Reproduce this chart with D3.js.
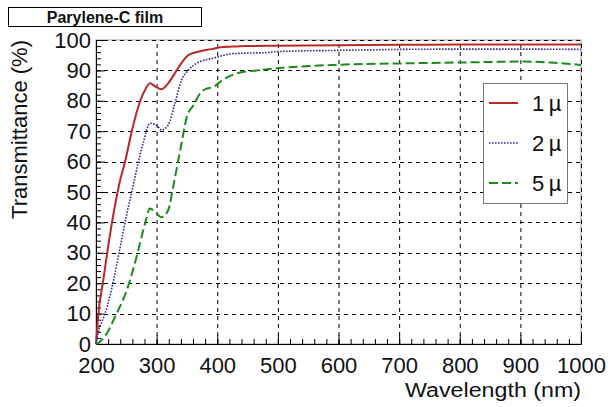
<!DOCTYPE html>
<html>
<head>
<meta charset="utf-8">
<script src="https://cdn.jsdelivr.net/npm/d3@7/dist/d3.min.js"></script>
<style>
  html, body { margin: 0; padding: 0; background: #fff; }
  svg { display: block; font-family: "Liberation Sans", Arial, Helvetica, sans-serif; }
</style>
</head>
<body>
<svg id="chart" width="608" height="407"></svg>
<script>
// Transmittance spectra of Parylene-C films of three thicknesses
const wavelength1 = [200, 204, 212, 220, 229, 240, 248, 259, 273, 282, 289, 297, 308, 320, 333, 343, 352, 362, 372, 390, 405, 430, 450, 500, 600, 700, 800, 900, 1000];
const film1 = [0, 10, 21, 32, 43, 54, 60, 70, 80, 84, 85.8, 84.8, 83.8, 86, 90, 93, 95, 95.8, 96.3, 97, 97.6, 97.9, 98, 98.1, 98.3, 98.4, 98.5, 98.5, 98.5];

const wavelength2 = [200, 205, 210, 215, 222, 229, 240, 251, 260, 270, 279, 289, 300, 308, 319, 330, 341, 352, 362, 372, 393, 421, 450, 476, 500, 600, 700, 800, 900, 1000];
const film2 = [0, 5, 7.5, 10, 15, 21, 32, 43, 51, 60, 67, 72.6, 72, 70.4, 72, 79, 86.8, 90, 91.8, 92.9, 94, 95.4, 95.7, 95.8, 96.2, 96.6, 96.9, 97, 97, 96.9];

const wavelength5 = [200, 205, 210, 218, 229, 234, 251, 267, 281, 289, 297, 308, 319, 328, 339, 350, 361, 372, 380, 394, 410, 432, 465, 498, 592, 702, 801, 900, 949, 1000];
const film5 = [0, 0.5, 1.5, 3.5, 7.9, 10, 17.8, 28.7, 39.7, 44.6, 43.5, 41.7, 44, 52.5, 63.8, 74.8, 78.6, 82.5, 83.8, 84.6, 87, 89, 90, 90.7, 91.8, 92.3, 92.6, 92.9, 92.6, 91.8];

const series = [
  { label: "1\u2009\u00b5", x: wavelength1, y: film1, color: "#b82a2a", width: 2, dash: null },
  { label: "2\u2009\u00b5", x: wavelength2, y: film2, color: "#2f2f9e", width: 1.6, dash: "1.6,1.4" },
  { label: "5\u2009\u00b5", x: wavelength5, y: film5, color: "#1d8a1d", width: 2, dash: "9,4" }
];

const xTicks = [200, 300, 400, 500, 600, 700, 800, 900, 1000];
const yTicks = [0, 10, 20, 30, 40, 50, 60, 70, 80, 90, 100];

const svg = d3.select("#chart");
const L = 96, R = 581, T = 40, B = 344;

const x = d3.scaleLinear().domain([200, 1000]).range([L, R]);
const y = d3.scaleLinear().domain([0, 100]).range([B, T]);

// frame (top/right in grey)
svg.append("rect").attr("x", L).attr("y", T).attr("width", R - L).attr("height", B - T)
  .attr("fill", "none").attr("stroke", "#999").attr("stroke-width", 1);

// dashed grid
const grid = svg.append("g").attr("stroke", "#000").attr("stroke-width", 1).attr("stroke-dasharray", "4,4");
grid.selectAll("line.v").data(xTicks.slice(1)).join("line")
  .attr("x1", d => x(d) + 0.5).attr("x2", d => x(d) + 0.5).attr("y1", B).attr("y2", T);
grid.selectAll("line.h").data(yTicks.slice(1)).join("line")
  .attr("y1", d => Math.round(y(d)) + 0.5).attr("y2", d => Math.round(y(d)) + 0.5).attr("x1", L).attr("x2", R);

// axes with inward ticks
const xMinor = d3.range(200, 1001, 20);
const yMinor = d3.range(0, 101, 2);

const xAxisG = svg.append("g").attr("transform", `translate(0,${B})`);
xAxisG.call(d3.axisBottom(x).tickValues(xMinor).tickSize(-5).tickFormat(""));
xAxisG.call(g => g.selectAll(".tick line").attr("stroke", "#000"));
const xMajorG = svg.append("g").attr("transform", `translate(0,${B})`);
xMajorG.call(d3.axisBottom(x).tickValues(xTicks).tickSize(-9).tickPadding(13).tickFormat(d3.format("d")));
xMajorG.select(".domain").attr("stroke", "#000");
xMajorG.selectAll(".tick text").attr("font-size", 22).attr("fill", "#111")
  .attr("font-family", "'Liberation Sans', Arial, sans-serif").attr("dy", "0.71em");

const yAxisG = svg.append("g").attr("transform", `translate(${L},0)`);
yAxisG.call(d3.axisLeft(y).tickValues(yMinor).tickSize(-5).tickFormat(""));
const yMajorG = svg.append("g").attr("transform", `translate(${L},0)`);
yMajorG.call(d3.axisLeft(y).tickValues(yTicks).tickSize(-9).tickPadding(5).tickFormat(d3.format("d")));
yMajorG.select(".domain").attr("stroke", "#000");
yMajorG.selectAll(".tick text").attr("font-size", 22).attr("fill", "#111")
  .attr("font-family", "'Liberation Sans', Arial, sans-serif");
xAxisG.select(".domain").remove();
yAxisG.select(".domain").remove();

// curves
const line = d3.line().x(d => x(d[0])).y(d => y(d[1])).curve(d3.curveMonotoneX);
series.forEach(s => {
  svg.append("path")
    .datum(s.x.map((v, i) => [v, s.y[i]]))
    .attr("fill", "none")
    .attr("stroke", s.color)
    .attr("stroke-width", s.width)
    .attr("stroke-dasharray", s.dash)
    .attr("d", line);
});

// axis titles
svg.append("text").attr("x", R).attr("y", 397).attr("text-anchor", "end")
  .attr("font-size", 20).attr("fill", "#111")
  .attr("textLength", 176).attr("lengthAdjust", "spacingAndGlyphs")
  .text("Wavelength (nm)");
svg.append("text").attr("transform", `translate(27,${T}) rotate(-90)`).attr("text-anchor", "end")
  .attr("font-size", 22).attr("fill", "#111")
  .text("Transmittance (%)");

// legend
const leg = svg.append("g");
leg.append("rect").attr("x", 483.5).attr("y", 83.5).attr("width", 84).attr("height", 120)
  .attr("fill", "#fff").attr("stroke", "#777").attr("stroke-width", 1);
series.forEach((s, i) => {
  const ly = 103 + i * 40;
  leg.append("line").attr("x1", 489).attr("x2", 518).attr("y1", ly).attr("y2", ly)
    .attr("stroke", s.color).attr("stroke-width", s.width).attr("stroke-dasharray", s.dash);
  leg.append("text").attr("x", 532).attr("y", ly + 8).attr("font-size", 22).attr("fill", "#111")
    .text(s.label);
});

// title box
svg.append("rect").attr("x", 8.5).attr("y", 7.5).attr("width", 193).attr("height", 19)
  .attr("fill", "#fff").attr("stroke", "#000").attr("stroke-width", 1);
svg.append("text").attr("x", 105).attr("y", 22.5).attr("text-anchor", "middle")
  .attr("font-size", 16).attr("font-weight", "bold").attr("fill", "#111")
  .text("Parylene-C film");
</script>
</body>
</html>
